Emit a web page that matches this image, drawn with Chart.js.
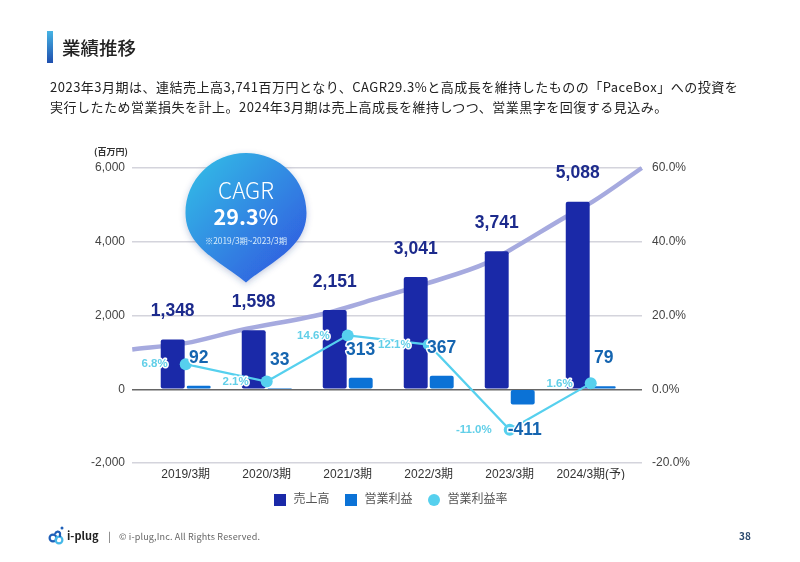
<!DOCTYPE html>
<html lang="ja">
<head>
<meta charset="utf-8">
<script src="https://cdn.jsdelivr.net/npm/chart.js@4"></script>
<style>
  html, body { margin: 0; padding: 0; background: #fff; }
  body { width: 800px; height: 562px; position: relative; overflow: hidden; font-family: "Noto Sans CJK JP", "Noto Sans", sans-serif; color: #222; }
  canvas { position: absolute; left: 0; top: 0; }
  .txt { position: absolute; white-space: nowrap; line-height: 1; }
  .bar { position: absolute; left: 47px; top: 31px; width: 6px; height: 32px; background: linear-gradient(#46b4e4, #1f4fae); }
  svg { position: absolute; left: 0; top: 0; }
</style>
</head>
<body>
<canvas id="myChart" width="800" height="562"></canvas>

<div class="bar"></div>
<div class="txt" style="left:62px;top:38px;font-size:18.5px;font-weight:500;">業績推移</div>
<div class="txt" style="left:50px;top:80px;font-size:13px;letter-spacing:0.5px;">2023年3月期は、連結売上高3,741百万円となり、CAGR29.3%と高成長を維持したものの「PaceBox」への投資を</div>
<div class="txt" style="left:50px;top:100px;font-size:13px;letter-spacing:0.5px;">実行したため営業損失を計上。2024年3月期は売上高成長を維持しつつ、営業黒字を回復する見込み。</div>
<div class="txt" style="left:94px;top:147px;font-size:9px;font-weight:700;color:#333;">(百万円)</div>

<svg width="800" height="562">
  <defs>
    <linearGradient id="drop" x1="0.1" y1="0.05" x2="0.9" y2="0.85">
      <stop offset="0" stop-color="#33b9e6"/>
      <stop offset="1" stop-color="#2f5fe0"/>
    </linearGradient>
    <filter id="soft" x="-20%" y="-20%" width="140%" height="140%">
      <feDropShadow dx="0" dy="2" stdDeviation="3" flood-color="#2a4a90" flood-opacity="0.3"/>
    </filter>
  </defs>
  <path d="M246 153 C280 153 306.5 180 306.5 213 C306.5 248 270 262 246 282.5 C222 262 185.5 248 185.5 213 C185.5 180 212 153 246 153 Z" fill="url(#drop)" filter="url(#soft)"/>
  <!-- logo -->
  <g fill="none" stroke-width="2.2">
    <circle cx="53" cy="538" r="3.4" stroke="#1f5fb8"/>
    <circle cx="59" cy="540" r="3.4" stroke="#45b8e8"/>
    <path d="M55 534 C56 531 59 531 60 533 L60 537" stroke="#1f5fb8"/>
  </g>
  <circle cx="62" cy="528" r="1.5" fill="#1f5fb8"/>
</svg>

<div class="txt" style="left:186px;width:120px;text-align:center;top:178px;font-size:22.5px;font-weight:300;color:#fff;">CAGR</div>
<div class="txt" style="left:186px;width:120px;text-align:center;top:205px;font-size:21.5px;font-weight:700;color:#fff;">29.3<span style="font-weight:400;">%</span></div>
<div class="txt" style="left:186px;width:120px;text-align:center;top:236px;font-size:8.3px;color:#d8ecfa;">※2019/3期~2023/3期</div>

<div class="txt" style="left:67px;top:530px;font-size:11px;font-weight:700;color:#222;">i-plug</div>
<div class="txt" style="left:108px;top:531px;font-size:10px;color:#555;">|</div>
<div class="txt" style="left:119px;top:532px;font-size:9px;letter-spacing:0.16px;color:#666;">© i-plug,Inc. All Rights Reserved.</div>
<div class="txt" style="left:739px;top:531px;font-size:10px;font-weight:700;color:#2c4a6e;">38</div>

<script>
const categorias = ['2019/3期', '2020/3期', '2021/3期', '2022/3期', '2023/3期', '2024/3期(予)'];
const vendas = [1348, 1598, 2151, 3041, 3741, 5088];
const lucro = [92, 33, 313, 367, -411, 79];
const margem = [6.8, 2.1, 14.6, 12.1, -11.0, 1.6];
// CAGR curve (x in category units, y in 百万円)
const curvaX = [-0.66, 0, 0.67, 1.69, 2.4, 2.99, 3.71, 4.0, 4.69, 5.02, 5.63];
const curvaY = [1080, 1250, 1600, 2040, 2490, 2880, 3420, 3770, 4670, 5080, 6000];
const ticksEsq = [-2000, 0, 2000, 4000, 6000];
const ticksDir = [-20, 0, 20, 40, 60];

const fonte = '"Liberation Sans", "Noto Sans CJK JP", sans-serif';
const azulEscuro = '#1a29a8';
const azul = '#0b72d6';
const ciano = '#56d0ee';

const toXY = (arr) => arr.map((v, i) => ({ x: i, y: v }));

// legend markers, the built-in circle and square don't come out the same size
const marca = (cor, redondo) => {
  const cv = document.createElement('canvas');
  cv.width = 12;
  cv.height = 12;
  const g = cv.getContext('2d');
  g.fillStyle = cor;
  if (redondo) {
    g.arc(6, 6, 6, 0, Math.PI * 2);
    g.fill();
  } else {
    g.fillRect(0, 0, 12, 12);
  }
  return cv;
};
const marcas = [marca(azulEscuro, false), marca(azul, false), marca(ciano, true)];

const rotulos = {
  id: 'rotulos',
  afterDatasetsDraw(chart) {
    const c = chart.ctx;
    c.save();
    c.textBaseline = 'middle';
    c.lineJoin = 'round';

    chart.getDatasetMeta(2).data.forEach((el, i) => {
      c.font = 'bold 11.5px ' + fonte;
      c.textAlign = 'right';
      const txt = margem[i].toFixed(1) + '%';
      c.strokeStyle = '#fff';
      c.lineWidth = 3;
      c.strokeText(txt, el.x - 18, el.y);
      c.fillStyle = '#62cfe8';
      c.fillText(txt, el.x - 18, el.y);
    });

    c.textAlign = 'center';
    c.font = 'bold 17.5px ' + fonte;
    chart.getDatasetMeta(0).data.forEach((el, i) => {
      c.fillStyle = '#1c2a8c';
      c.fillText(vendas[i].toLocaleString('en-US'), el.x, el.y - 28);
    });
    chart.getDatasetMeta(1).data.forEach((el, i) => {
      const y = lucro[i] < 0 ? el.y + 26 : el.y - 28;
      const x = lucro[i] < 0 ? el.x + 2 : el.x;
      c.strokeStyle = '#fff';
      c.lineWidth = 3;
      c.strokeText(String(lucro[i]), x, y);
      c.fillStyle = '#1565b0';
      c.fillText(String(lucro[i]), x, y);
    });
    c.restore();
  },
};

const ctx = document.getElementById('myChart');
const myChart = new Chart(ctx, {
  type: 'bar',
  data: {
    datasets: [
      {
        label: '売上高',
        data: toXY(vendas),
        backgroundColor: azulEscuro,
        borderRadius: 2,
        borderSkipped: false,
        categoryPercentage: 0.642,
        barPercentage: 0.92,
        order: 2,
      },
      {
        label: '営業利益',
        data: toXY(lucro),
        backgroundColor: azul,
        borderRadius: 2,
        borderSkipped: false,
        categoryPercentage: 0.642,
        barPercentage: 0.92,
        order: 2,
      },
      {
        type: 'line',
        label: '営業利益率',
        data: toXY(margem),
        yAxisID: 'y2',
        borderColor: ciano,
        backgroundColor: ciano,
        borderWidth: 2.2,
        pointRadius: 6,
        pointBorderWidth: 0,
        tension: 0,
        order: 1,
      },
      {
        type: 'line',
        label: 'CAGR',
        data: curvaX.map((x, i) => ({ x: x, y: curvaY[i] })),
        borderColor: '#a6aadf',
        borderWidth: 4.5,
        pointRadius: 0,
        cubicInterpolationMode: 'monotone',
        clip: false,
        order: 3,
      },
    ],
  },
  plugins: [rotulos],
  options: {
    responsive: false,
    animation: false,
    devicePixelRatio: 1,
    layout: { padding: { top: 168, right: 20, bottom: 46, left: 0 } },
    plugins: {
      tooltip: { enabled: false },
      legend: {
        position: 'bottom',
        onClick: null,
        labels: {
          usePointStyle: true,
          pointStyleWidth: 15,
          boxHeight: 12,
          padding: 14,
          color: '#555',
          font: { size: 12, family: fonte },
          filter: (item) => item.text !== 'CAGR',
          sort: (a, b) => a.datasetIndex - b.datasetIndex,
          generateLabels(chart) {
            const items = Chart.defaults.plugins.legend.labels.generateLabels(chart);
            items.forEach((it) => {
              it.pointStyle = marcas[it.datasetIndex];
              it.lineWidth = 0;
            });
            return items;
          },
        },
      },
    },
    scales: {
      x: {
        type: 'linear',
        offset: false,
        min: -0.663,
        max: 5.633,
        afterBuildTicks: (scale) => { scale.ticks = categorias.map((_, i) => ({ value: i })); },
        afterFit: (scale) => { scale.height = 17; },
        grid: { display: false, offset: false, drawTicks: false },
        border: { display: false },
        ticks: {
          autoSkip: false,
          maxRotation: 0,
          padding: 4,
          color: '#333',
          font: { size: 12, family: fonte },
          callback: (v) => categorias[v],
        },
      },
      y: {
        position: 'left',
        min: -2000,
        max: 6000,
        afterBuildTicks: (scale) => { scale.ticks = ticksEsq.map((v) => ({ value: v })); },
        afterFit: (scale) => { scale.width = 132; },
        border: { display: false },
        grid: {
          drawTicks: false,
          lineWidth: 1.5,
          color: (c) => (c.tick.value === 0 ? '#666' : '#d4d4dc'),
        },
        ticks: {
          padding: 7,
          color: '#444',
          font: { size: 12, family: fonte },
          callback: (v) => v.toLocaleString('en-US'),
        },
      },
      y2: {
        position: 'right',
        min: -20,
        max: 60,
        afterBuildTicks: (scale) => { scale.ticks = ticksDir.map((v) => ({ value: v })); },
        afterFit: (scale) => { scale.width = 138; },
        border: { display: false },
        grid: { display: false, drawTicks: false },
        ticks: {
          padding: 10,
          color: '#444',
          font: { size: 12, family: fonte },
          callback: (v) => v.toFixed(1) + '%',
        },
      },
    },
  },
});
</script>
</body>
</html>
